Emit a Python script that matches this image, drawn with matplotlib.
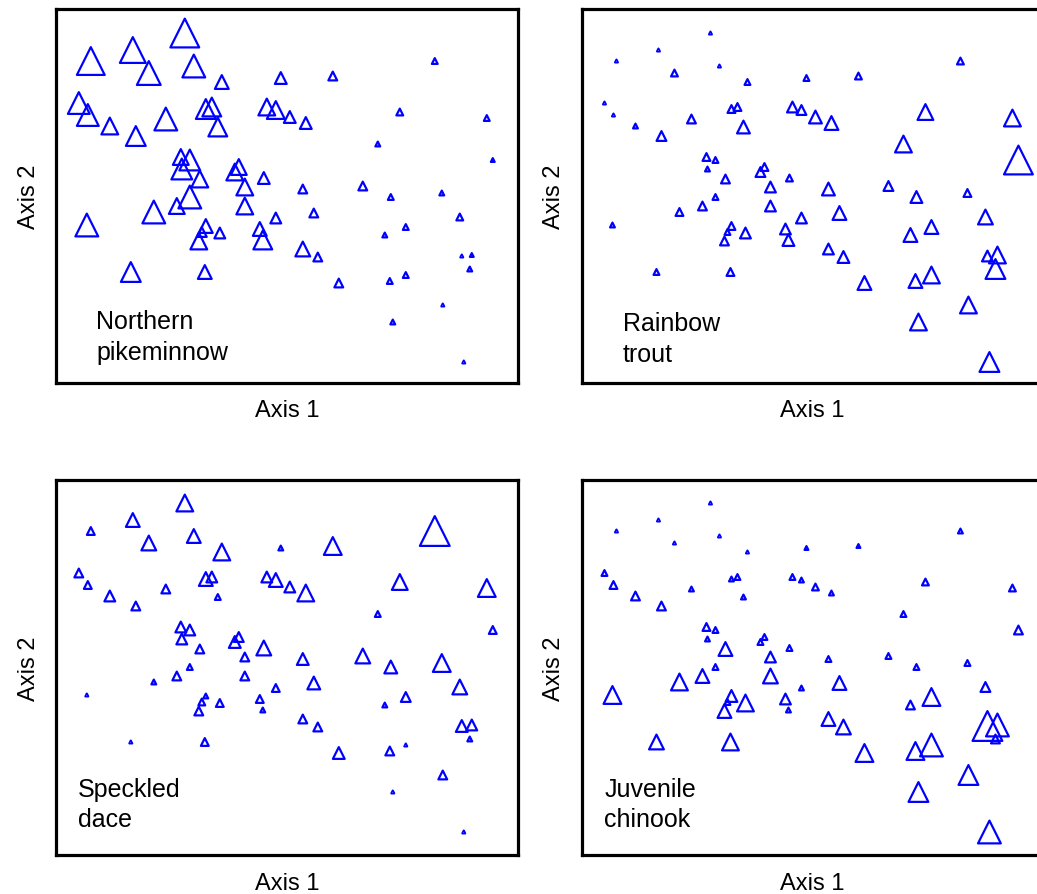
import numpy as np
import matplotlib.pyplot as plt

plt.rcParams['font.family'] = ['Liberation Sans', 'DejaVu Sans']

# =====================================================================
# Site scores on the two ordination axes (same sites in every panel)
# =====================================================================
axis1 = [34, 76, 92, 128, 137, 165, 224, 22, 31, 53,
         79, 109, 149, 155, 161, 210, 219, 233, 124, 133,
         125, 143, 182, 178, 188, 207, 378, 276, 343, 430,
         321, 436, 249, 246, 306, 385, 334, 257, 403, 349,
         328, 246, 261, 405, 415, 413, 282, 333, 349, 386,
         336, 407, 30, 97, 120, 133, 188, 219, 149, 163,
         145, 142, 203, 206, 74, 148]
axis2 = [321, 332, 309, 349, 316, 300, 304, 279, 267, 256,
         246, 263, 273, 275, 255, 275, 272, 265, 225, 222,
         213, 203, 215, 210, 195, 204, 321, 306, 270, 264,
         238, 222, 259, 193, 196, 189, 185, 169, 165, 155,
         147, 133, 125, 126, 127, 113, 99, 101, 107, 77,
         60, 20, 157, 170, 176, 185, 176, 164, 156, 149,
         150, 141, 153, 142, 110, 110]

# relative abundance of each species at each site (drawn as triangle size)
northern_pikeminnow = [30, 28, 26, 31, 25, 16, 14, 24, 24, 19,
                       22, 25, 22, 21, 21, 19, 20, 14, 18, 23,
                       23, 19, 18, 19, 19, 14, 8, 11, 9, 8,
                       7, 6, 14, 11, 11, 7, 8, 11, 9, 8,
                       7, 17, 11, 5, 6, 7, 11, 8, 8, 5,
                       7, 5, 25, 25, 18, 25, 19, 13, 16, 13,
                       12, 19, 16, 21, 22, 16]
rainbow_trout = [5, 5, 9, 5, 5, 8, 8, 5, 5, 7,
                 12, 11, 10, 10, 15, 13, 12, 15, 10, 8,
                 7, 11, 10, 12, 13, 9, 9, 9, 18, 19,
                 19, 31, 16, 15, 12, 10, 14, 16, 17, 16,
                 16, 13, 14, 13, 19, 22, 16, 16, 19, 19,
                 19, 22, 7, 10, 11, 8, 13, 13, 10, 13,
                 8, 11, 13, 14, 8, 10]
speckled_dace = [10, 16, 17, 19, 16, 19, 7, 11, 10, 13,
                 11, 11, 16, 13, 8, 13, 16, 13, 13, 13,
                 13, 11, 12, 14, 11, 17, 32, 20, 18, 20,
                 8, 10, 19, 14, 17, 20, 15, 15, 17, 12,
                 7, 11, 11, 14, 13, 7, 14, 11, 5, 11,
                 5, 5, 5, 7, 11, 8, 11, 10, 7, 10,
                 9, 11, 10, 7, 5, 10]
juvenile_chinook = [5, 5, 5, 5, 5, 5, 6, 8, 10, 11,
                    11, 7, 7, 8, 7, 8, 7, 9, 10, 8,
                    7, 16, 8, 8, 13, 8, 7, 6, 9, 9,
                    8, 11, 7, 8, 8, 8, 8, 16, 12, 20,
                    11, 16, 17, 32, 25, 11, 20, 20, 25, 22,
                    22, 25, 20, 19, 16, 8, 17, 7, 14, 19,
                    8, 16, 13, 7, 17, 19]

species = ['Northern\npikeminnow', 'Rainbow\ntrout', 'Speckled\ndace', 'Juvenile\nchinook']
abundance = [northern_pikeminnow, rainbow_trout, speckled_dace, juvenile_chinook]

# =====================================================================
# Layout: four framed panels, the right column runs off the canvas
# =====================================================================
fig = plt.figure(figsize=(10.37, 8.95), dpi=100)

rects = [
    [0.0543, 0.5713, 0.4450, 0.4175],
    [0.5612, 0.5713, 0.4450, 0.4175],
    [0.0543, 0.0436, 0.4450, 0.4193],
    [0.5612, 0.0436, 0.4450, 0.4193],
]
ylims = [(-0.7, 373), (-0.7, 373), (-3, 372.3), (-3, 372.3)]
label_pos = [(0.086, 0.064), (0.088, 0.058), (0.046, 0.076), (0.048, 0.076)]

edge_px = 2.2  # triangle outline width in pixels

for i in range(4):
    ax = fig.add_axes(rects[i])
    a = np.array(abundance[i], dtype=float)
    # marker width in points, outline excluded
    ms = np.maximum(a - edge_px, 2.5) * 72 / 100
    ax.scatter(axis1, axis2, s=ms ** 2, marker='^', facecolors='none',
               edgecolors='blue', linewidths=edge_px * 72 / 100, clip_on=False)

    ax.set_xlim(-0.5, 461)
    ax.set_ylim(*ylims[i])
    ax.set_xticks([])
    ax.set_yticks([])
    for sp in ax.spines.values():
        sp.set_linewidth(2.3)
        sp.set_color('black')

    ax.set_xlabel('Axis 1', fontsize=17, labelpad=12)
    ax.set_ylabel('Axis 2', fontsize=17, labelpad=12)

    ax.text(label_pos[i][0], label_pos[i][1], species[i], transform=ax.transAxes,
            ha='left', va='baseline', fontsize=18, linespacing=1.35)

plt.savefig('out.png', dpi=100)
